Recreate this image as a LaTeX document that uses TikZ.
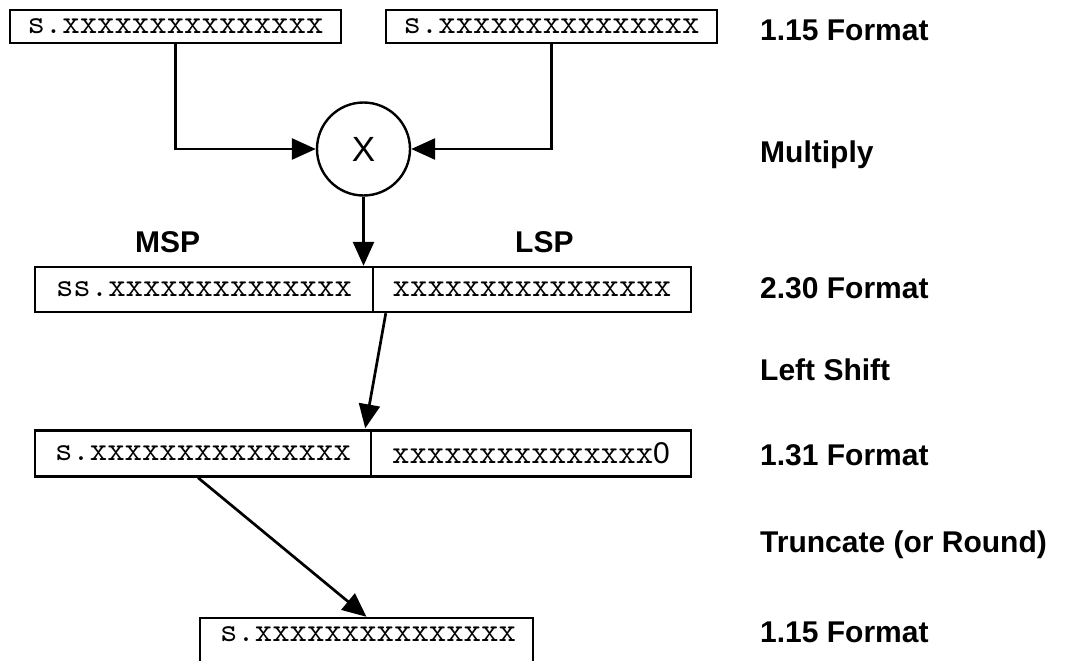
\documentclass[tikz,border=0pt]{standalone}
\usepackage{fontspec}
\setmainfont{Liberation Sans}
\usetikzlibrary{arrows.meta,calc}
\newcommand{\xmono}{\ttfamily\fontsize{33.8}{34}\selectfont}
\begin{document}
\begin{tikzpicture}[x=1pt,y=-1pt,
  cell/.style={draw,line width=2.4pt,rectangle,inner sep=0pt,font=\xmono},
  lbl/.style={anchor=base west,inner sep=0pt,font=\bfseries\fontsize{30}{32}\selectfont},
  arr/.style={line width=2.7pt,-{Triangle[length=24pt,width=21pt]}}]
\useasboundingbox (0,0) rectangle (1079,661);
\clip (0,0) rectangle (1079,661);
% inputs
\node[cell,minimum width=331pt,minimum height=33pt] (in1) at (175.5,26.5) {s.xxxxxxxxxxxxxxx};
\node[cell,minimum width=331pt,minimum height=33pt] (in2) at (551.5,26.5) {s.xxxxxxxxxxxxxxx};
% multiplier
\node[circle,draw,line width=2.4pt,minimum size=93pt,inner sep=0pt,font=\fontsize{35}{36}\selectfont] (mul) at (363.5,149) {X};
% 2.30 format
\node[cell,minimum width=338pt,minimum height=45pt] (msp) at (204,289.5) {ss.xxxxxxxxxxxxxx};
\node[cell,minimum width=318pt,minimum height=45pt] (lsp) at (532,289.5) {xxxxxxxxxxxxxxxx};
% 1.31 format
\node[cell,minimum width=336pt,minimum height=46pt] (hi) at (203,453.5) {s.xxxxxxxxxxxxxxx};
\node[cell,minimum width=320pt,minimum height=46pt] (lo) at (531,453.5) {xxxxxxxxxxxxxxx{\rmfamily\fontsize{30}{32}\selectfont 0}};
% output
\node[cell,minimum width=333pt,minimum height=84pt] (out) at (366.5,660) {};
\node[anchor=base,inner sep=0pt,font=\xmono] (outtxt) at (368,641.5) {s.xxxxxxxxxxxxxxx};
% part labels
\node[anchor=base west,inner sep=0pt,font=\bfseries\fontsize{30}{32}\selectfont] (msplbl) at (135,252) {MSP};
\node[anchor=base west,inner sep=0pt,font=\bfseries\fontsize{30}{32}\selectfont] (lsplbl) at (515,252) {LSP};
% right labels
\node[lbl] (l1) at (760,41) {1.15 Format};
\node[lbl] (l2) at (760,162) {Multiply};
\node[lbl] (l3) at (760,298) {2.30 Format};
\node[lbl] (l4) at (760,380) {Left Shift};
\node[lbl] (l5) at (760,465) {1.31 Format};
\node[lbl] (l6) at (760,552) {Truncate (or Round)};
\node[lbl] (l7) at (760,642) {1.15 Format};
% connectors
\draw[arr] (in1.south) |- (mul.west);
\draw[arr] (in2.south) |- (mul.east);
\draw[arr] (mul.south) -- (mul.south |- msp.north);
\coordinate (shs) at ($(lsp.south west)+(14,0)$);
\coordinate (she) at ($(hi.north east)+(-7,-1)$);
\draw[arr] (shs) -- (she);
\coordinate (trs) at ($(hi.south)+(-5,0)$);
\draw[arr] (trs) -- (out.north);
\end{tikzpicture}
\end{document}
